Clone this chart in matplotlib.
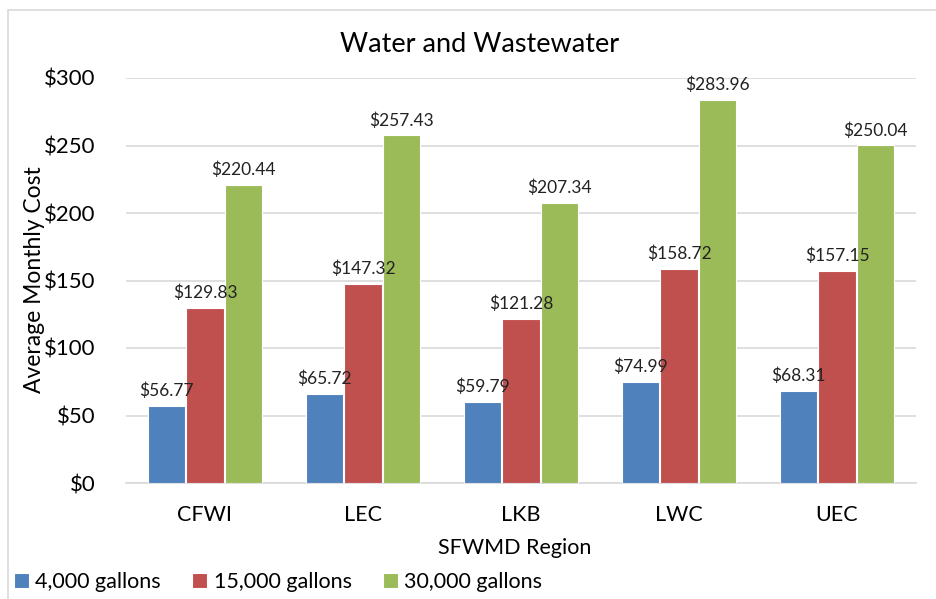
import numpy as np
import matplotlib.pyplot as plt
from matplotlib.patches import Rectangle

regions = ['CFWI', 'LEC', 'LKB', 'LWC', 'UEC']
series_names = ['4,000 gallons', '15,000 gallons', '30,000 gallons']
cost_4k = [56.77, 65.72, 59.79, 74.99, 68.31]
cost_15k = [129.83, 147.32, 121.28, 158.72, 157.15]
cost_30k = [220.44, 257.43, 207.34, 283.96, 250.04]
colors = ['#4f81bd', '#c0504d', '#9bbb59']

plt.rcParams['font.family'] = ['Lato', 'DejaVu Sans']

fig = plt.figure(figsize=(9.36, 5.99), dpi=100)
# chart frame (cropped on right/bottom)
fig.patches.append(Rectangle((8 / 936, -0.1), 1.1, 1 - 10 / 599 + 0.1,
                             transform=fig.transFigure, fill=False,
                             edgecolor='#d9d9d9', linewidth=1.2))

ax = fig.add_axes([126 / 936, 1 - 483 / 599, 790 / 936, 405 / 599])
x = np.arange(len(regions))
w = 0.235
data = [cost_4k, cost_15k, cost_30k]
for i, vals in enumerate(data):
    bars = ax.bar(x + (i - 1) * (w + 0.01), vals, w, color=colors[i],
                  edgecolor='white', linewidth=0.8, label=series_names[i], zorder=3)
    for b, v in zip(bars, vals):
        ax.annotate('$%.2f' % v, (b.get_x() + b.get_width() / 2, v),
                    xytext=(0, 5), textcoords='offset points',
                    ha='center', va='bottom', fontsize=12.5, color='#222222',
                    zorder=10)

ax.set_xlim(-0.5, len(regions) - 0.5)
ax.set_ylim(0, 300)
ax.set_yticks(range(0, 301, 50))
ax.set_yticklabels(['$%d' % t for t in range(0, 301, 50)], fontsize=16)
ax.set_xticks(x)
ax.set_xticklabels(regions, fontsize=15.5)
ax.tick_params(length=0, pad=22)
ax.tick_params(axis='x', pad=16)
ax.grid(axis='y', color='#d9d9d9', linewidth=1.2, zorder=0)
for s in ['top', 'right', 'left']:
    ax.spines[s].set_visible(False)
ax.spines['bottom'].set_color('#d9d9d9')
ax.spines['bottom'].set_linewidth(1.2)

fig.text(480 / 936, 1 - 45 / 599, 'Water and Wastewater', ha='center',
         va='center', fontsize=19.5)
fig.text(35 / 936, 1 - 280 / 599, 'Average Monthly Cost', ha='center',
         va='center', rotation=90, fontsize=16.5)
fig.text(515 / 936, 1 - 548 / 599, 'SFWMD Region', ha='center',
         va='center', fontsize=15.5)

ax.legend(loc='center left', bbox_to_anchor=(5 / 936, 1 - 582 / 599),
          bbox_transform=fig.transFigure, ncol=3, frameon=False, fontsize=15.5,
          handlelength=0.7, handleheight=0.7, handletextpad=0.3,
          columnspacing=1.45, borderaxespad=0)

fig.savefig('out.png', dpi=100)
